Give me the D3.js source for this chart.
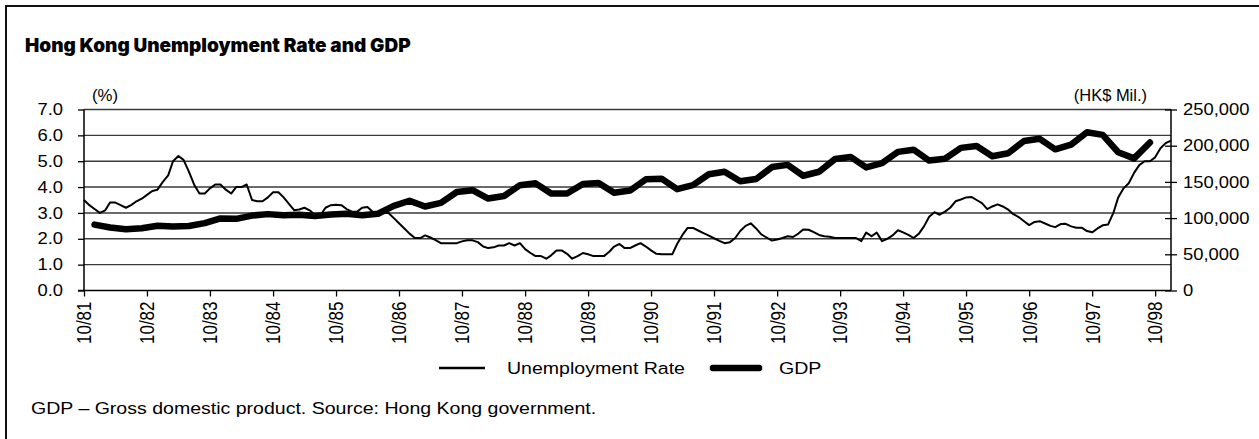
<!DOCTYPE html>
<html>
<head>
<meta charset="utf-8">
<script src="https://cdn.jsdelivr.net/npm/d3@7"></script>
<style>
body { margin: 0; background: #fff; }
svg { display: block; font-family: "Liberation Sans", Arial, sans-serif; }
</style>
</head>
<body>
<div id="chart"></div>
<script>
var width = 1259
var height = 439
var plot = {left: 84, right: 1171, top: 109.5, bottom: 290.5}
var sx = 1.15   // text in the picture is a little wide

// Data

// monthly unemployment rate (%), from Oct 1981
var urStart = "1981-10"
var urValues = [
    3.5, 3.3, 3.15,
    3.0, 3.1, 3.4, 3.4, 3.3, 3.2, 3.3, 3.45, 3.55, 3.7, 3.85, 3.9,
    4.2, 4.45, 5.0, 5.2, 5.05, 4.6, 4.1, 3.75, 3.75, 3.95, 4.1, 4.1,
    3.9, 3.75, 4.0, 4.0, 4.1, 3.5, 3.45, 3.45, 3.6, 3.8, 3.8, 3.6,
    3.35, 3.1, 3.13, 3.2, 3.1, 2.92, 2.9, 3.2, 3.3, 3.32, 3.3, 3.15,
    3.05, 3.05, 3.2, 3.23, 3.05, 3.0, 3.0, 3.0, 2.8, 2.6, 2.4, 2.2,
    2.03, 2.03, 2.13, 2.05, 1.95, 1.83, 1.83, 1.83, 1.83, 1.9, 1.94, 1.94,
    1.87, 1.7, 1.64, 1.67, 1.74, 1.74, 1.83, 1.74, 1.83, 1.6, 1.45, 1.33,
    1.33, 1.23, 1.36, 1.55, 1.55, 1.42, 1.23, 1.33, 1.45, 1.4, 1.33, 1.33,
    1.33, 1.5, 1.7, 1.8, 1.64, 1.64, 1.74, 1.83, 1.7, 1.55, 1.42, 1.4,
    1.4, 1.4, 1.8, 2.15, 2.42, 2.42, 2.32, 2.22, 2.12, 2.02, 1.92, 1.83,
    1.87, 2.03, 2.3, 2.5, 2.6, 2.4, 2.17, 2.05, 1.93, 1.97, 2.03, 2.1,
    2.07, 2.2, 2.36, 2.35, 2.26, 2.15, 2.1, 2.08, 2.03, 2.03, 2.03, 2.03,
    2.03, 1.91, 2.24, 2.1, 2.24, 1.91, 2.0, 2.13, 2.33, 2.25, 2.15, 2.03,
    2.2, 2.5, 2.85, 3.03, 2.93, 3.05, 3.2, 3.45, 3.52, 3.6, 3.62, 3.5,
    3.38, 3.15, 3.25, 3.33, 3.25, 3.13, 2.95, 2.84, 2.68, 2.53, 2.65, 2.68,
    2.59, 2.5, 2.45, 2.57, 2.58, 2.48, 2.43, 2.43, 2.3, 2.25, 2.4, 2.52,
    2.55, 3.0, 3.6, 3.95, 4.15, 4.55, 4.85, 5.0, 5.0, 5.15, 5.5, 5.7,
    5.8
]

// quarterly GDP (HK$ mil), from Dec 1981
var gdpStart = "1981-12"
var gdpValues = [
    91000,
    87000, 84500, 86000, 89500,
    88500, 89000, 93000, 99500,
    99000, 103500, 105500, 104000,
    104500, 103000, 105000, 106000,
    104000, 106000, 117000, 124000,
    116000, 121000, 136000, 138500,
    127000, 130500, 145500, 148000,
    134000, 134000, 147000, 148500,
    135000, 138000, 153500, 154500,
    140000, 145500, 160500, 164000,
    151000, 154000, 170500, 173500,
    158500, 164000, 181500, 184500,
    170000, 176000, 191500, 194500,
    179500, 182000, 197000, 199500,
    185500, 189500, 206500, 209500,
    195000, 201500, 218500, 215000,
    191000, 182500, 204500
]

var xTickLabels = ["10/81", "10/82", "10/83", "10/84", "10/85", "10/86", "10/87", "10/88", "10/89",
    "10/90", "10/91", "10/92", "10/93", "10/94", "10/95", "10/96", "10/97", "10/98"]
var urTicks = [0, 1, 2, 3, 4, 5, 6, 7]
var gdpTicks = [0, 50000, 100000, 150000, 200000, 250000]

var parseMonth = d3.timeParse("%Y-%m")
var parseTick = d3.timeParse("%m/%y")

var urData = urValues.map(function(v, i) {
    return {date: d3.timeMonth.offset(parseMonth(urStart), i), value: v}
})
var gdpData = gdpValues.map(function(v, i) {
    return {date: d3.timeMonth.offset(parseMonth(gdpStart), i * 3), value: v}
})

// Scales

var x_scale = d3.scaleTime()
    .domain([parseMonth("1981-10"), parseMonth("1999-01")])
    .range([plot.left, plot.right])

var yL_scale = d3.scaleLinear()
    .domain([0, 7])
    .range([plot.bottom, plot.top])

var yR_scale = d3.scaleLinear()
    .domain([0, 250000])
    .range([plot.bottom, plot.top])

var svg = d3.select("#chart")
    .append("svg")
    .attr("width", width)
    .attr("height", height)
    .style("background-color", "white")

function addText(x, y, str, size, anchor, stretch) {
    return svg.append("text")
        .attr("transform", "translate(" + x + "," + y + ") scale(" + (stretch || sx) + ",1)")
        .attr("text-anchor", anchor || "start")
        .attr("font-size", size)
        .attr("fill", "#000")
        .text(str)
}

// Frame

svg.append("path")
    .attr("d", "M6," + (height + 5) + "V6H" + (width + 5))
    .attr("fill", "none")
    .attr("stroke", "#111")
    .attr("stroke-width", 2)

addText(25, 52, "Hong Kong Unemployment Rate and GDP", 19, "start", 1)
    .attr("font-weight", 900)
    .style("font-family", "Inter, 'Liberation Sans', sans-serif")

// Grid

svg.append("g")
    .selectAll("line")
    .data(urTicks.slice(1))
    .enter()
    .append("line")
    .attr("x1", plot.left)
    .attr("x2", plot.right)
    .attr("y1", function(d) { return yL_scale(d) })
    .attr("y2", function(d) { return yL_scale(d) })
    .attr("stroke", "#3a3a3a")
    .attr("stroke-width", 1.4)

// Axes

var yAxisL = d3.axisLeft(yL_scale)
    .tickValues(urTicks)
    .tickFormat(d3.format(".1f"))
    .tickSize(6)
    .tickPadding(15)

var yAxisR = d3.axisRight(yR_scale)
    .tickValues(gdpTicks)
    .tickFormat(d3.format(","))
    .tickSize(6)
    .tickPadding(6)

var xAxis = d3.axisBottom(x_scale)
    .tickValues(xTickLabels.map(function(s) { return parseTick(s) }))
    .tickFormat(d3.timeFormat("%m/%y"))
    .tickSize(6)

var gL = svg.append("g")
    .attr("transform", "translate(" + plot.left + ",0)")
    .call(yAxisL)
var gR = svg.append("g")
    .attr("transform", "translate(" + plot.right + ",0)")
    .call(yAxisR)
var gX = svg.append("g")
    .attr("transform", "translate(0," + plot.bottom + ")")
    .call(xAxis)

gR.selectAll(".tick line").attr("x1", -6)

;[gL, gR, gX].forEach(function(g) {
    g.select(".domain").attr("stroke", "#000").attr("stroke-width", 1.5)
    g.selectAll(".tick line").attr("stroke", "#000").attr("stroke-width", 1.3)
    g.selectAll("text")
        .attr("fill", "#000")
        .attr("font-size", 16)
        .style("font-family", "'Liberation Sans', Arial, sans-serif")
})
gL.select(".domain").attr("d", "M-6," + plot.bottom + "H0V" + plot.top)
gR.select(".domain").attr("d", "M0," + plot.bottom + "V" + plot.top)
gX.select(".domain").attr("d", "M" + plot.left + ",0H" + plot.right)

;[gL, gR].forEach(function(g) {
    g.selectAll(".tick text").each(function() {
        var t = d3.select(this)
        t.attr("transform", "translate(" + t.attr("x") + ",0) scale(" + sx + ",1)").attr("x", 0)
    })
})

gX.selectAll(".tick text")
    .attr("font-size", 17)
    .attr("transform", "scale(" + sx + ",1) rotate(-90)")
    .attr("text-anchor", "end")
    .attr("x", -11)
    .attr("y", 0)
    .attr("dy", "0.35em")

addText(92, 101, "(%)", 16, "start", 1.05)
addText(1147, 101, "(HK$ Mil.)", 16, "end", 1.03)

// Lines

var urLine = d3.line()
    .x(function(d) { return x_scale(d.date) })
    .y(function(d) { return yL_scale(d.value) })

var gdpLine = d3.line()
    .x(function(d) { return x_scale(d.date) })
    .y(function(d) { return yR_scale(d.value) })

svg.append("path")
    .datum(gdpData)
    .attr("d", gdpLine)
    .attr("fill", "none")
    .attr("stroke", "#000")
    .attr("stroke-width", 6.5)
    .attr("stroke-linejoin", "round")
    .attr("stroke-linecap", "round")

svg.append("path")
    .datum(urData)
    .attr("d", urLine)
    .attr("fill", "none")
    .attr("stroke", "#000")
    .attr("stroke-width", 2)
    .attr("stroke-linejoin", "round")

// Legend

svg.append("line")
    .attr("x1", 439).attr("x2", 485).attr("y1", 368).attr("y2", 368)
    .attr("stroke", "#000").attr("stroke-width", 2.5)
addText(507, 374, "Unemployment Rate", 17)
svg.append("line")
    .attr("x1", 713).attr("x2", 759).attr("y1", 368).attr("y2", 368)
    .attr("stroke", "#000").attr("stroke-width", 6.5).attr("stroke-linecap", "round")
addText(779, 374, "GDP", 17)

addText(31, 414, "GDP \u2013 Gross domestic product. Source: Hong Kong government.", 17)
</script>
</body>
</html>
